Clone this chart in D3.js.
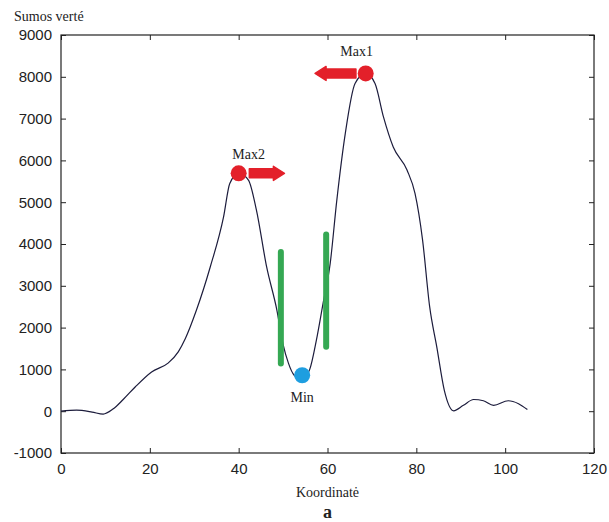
<!DOCTYPE html>
<html>
<head>
<meta charset="utf-8">
<script src="https://cdn.jsdelivr.net/npm/d3@7"></script>
<style>
  body { margin: 0; background: #fff; }
  svg { display: block; }
</style>
</head>
<body>
<div id="chart"></div>
<script>
// 画布尺寸
const width = 609;
const height = 522;
const margin = { top: 35, right: 15, bottom: 69, left: 61 };

// 曲线数据
const coordX = [0, 3.5, 7, 9.5, 11.7, 14, 16.7, 20.4, 24.1, 26.4, 28, 30.5, 33.6, 36.6, 38, 40,
  42.2, 44, 46.3, 48.6, 50, 51.2, 52.5, 54.3, 56, 57.5, 59, 60.6, 62.1, 64, 66.2, 68.6, 70.7,
  72.6, 74.8, 77.9, 79.7, 81.4, 83, 84.6, 86.3, 88.4, 90.6, 92.9, 95.1, 97.4, 100.7, 103, 105];
const sumValues = [0, 25, -20, -70, 50, 280, 580, 940, 1150, 1420, 1740, 2420, 3450, 4650, 5450, 5690,
  5530, 4810, 3450, 2420, 1600, 1150, 860, 760, 1000, 1700, 2580, 3530, 5050, 6640, 7840, 8080, 7840,
  7040, 6320, 5770, 5210, 4100, 2500, 1540, 500, 10, 140, 280, 250, 140, 250, 180, 40];

// 刻度
const xTicks = [0, 20, 40, 60, 80, 100, 120];
const yTicks = [-1000, 0, 1000, 2000, 3000, 4000, 5000, 6000, 7000, 8000, 9000];

// 标注: 极值点
const peakNames = ["Max2", "Max1", "Min"];
const peakX = [40, 68.6, 54.3];
const peakY = [5690, 8080, 860];
const peakColors = ["#e3202a", "#e3202a", "#1e9ee0"];
// 箭头 (起点 -> 终点, 数据坐标)
const arrowFrom = [[42.4, 5690], [66.4, 8080]];
const arrowTo = [[50.3, 5690], [57.2, 8080]];
// 绿色竖线
const barX = [49.5, 59.7];
const barTop = [3810, 4230];
const barBottom = [1140, 1540];

const svg = d3.select("#chart").append("svg")
  .attr("width", width)
  .attr("height", height);

const x = d3.scaleLinear().domain([0, 120]).range([margin.left, width - margin.right]);
const y = d3.scaleLinear().domain([-1000, 9000]).range([height - margin.bottom, margin.top]);

const tickFont = "'Liberation Sans', Arial, sans-serif";
const serif = "'Liberation Serif', 'Times New Roman', serif";
const plain = d => String(d); // 普通连字符负号

// 坐标轴 (MATLAB 风格, 刻度朝内)
function styleAxis(g) {
  g.select(".domain").remove();
  g.selectAll("text").style("font-family", tickFont).style("font-size", "15px").attr("fill", "#222");
  g.selectAll("line").attr("stroke", "#222");
}

svg.append("g")
  .attr("transform", `translate(0,${y(-1000)})`)
  .call(d3.axisBottom(x).tickValues(xTicks).tickSize(-5).tickPadding(10).tickFormat(plain))
  .call(styleAxis);

svg.append("g")
  .attr("transform", `translate(0,${y(9000)})`)
  .call(d3.axisTop(x).tickValues(xTicks).tickSize(-5).tickFormat(""))
  .call(styleAxis);

svg.append("g")
  .attr("transform", `translate(${x(0)},0)`)
  .call(d3.axisLeft(y).tickValues(yTicks).tickSize(-5).tickPadding(9).tickFormat(plain))
  .call(styleAxis);

svg.append("g")
  .attr("transform", `translate(${x(120)},0)`)
  .call(d3.axisRight(y).tickValues(yTicks).tickSize(-5).tickFormat(""))
  .call(styleAxis);

// 边框
svg.append("rect")
  .attr("x", x(0))
  .attr("y", y(9000))
  .attr("width", x(120) - x(0))
  .attr("height", y(-1000) - y(9000))
  .attr("fill", "none")
  .attr("stroke", "#222")
  .attr("stroke-width", 1.2);

// 曲线
const line = d3.line()
  .x((d, i) => x(coordX[i]))
  .y(d => y(d))
  .curve(d3.curveMonotoneX);

svg.append("path")
  .datum(sumValues)
  .attr("d", line)
  .attr("fill", "none")
  .attr("stroke", "#1c1c3c")
  .attr("stroke-width", 1.2);

// 绿色竖线
svg.append("g").selectAll("line")
  .data(barX)
  .enter()
  .append("line")
  .attr("x1", d => x(d))
  .attr("x2", d => x(d))
  .attr("y1", (d, i) => y(barTop[i]))
  .attr("y2", (d, i) => y(barBottom[i]))
  .attr("stroke", "#35a853")
  .attr("stroke-width", 6)
  .attr("stroke-linecap", "round");

// 红色箭头
const arrows = svg.append("g");
arrowFrom.forEach((from, i) => {
  const x0 = x(from[0]), x1 = x(arrowTo[i][0]), yy = y(from[1]);
  const dir = Math.sign(x1 - x0);
  const headLen = 11;
  const xh = x1 - dir * headLen;
  arrows.append("path")
    .attr("d", `M${x0},${yy - 4.5} L${xh},${yy - 4.5} L${xh},${yy - 7} L${x1},${yy}
                L${xh},${yy + 7} L${xh},${yy + 4.5} L${x0},${yy + 4.5} Z`)
    .attr("fill", "#e3202a")
    .attr("stroke", "#e3202a")
    .attr("stroke-width", 1.5)
    .attr("stroke-linejoin", "round");
});

// 极值点
svg.append("g").selectAll("circle")
  .data(peakX)
  .enter()
  .append("circle")
  .attr("cx", d => x(d))
  .attr("cy", (d, i) => y(peakY[i]))
  .attr("r", 8)
  .attr("fill", (d, i) => peakColors[i]);

// 标签
const labelDx = [10, -9, 0];
const labelDy = [-14, -17, 27];
svg.append("g").selectAll("text")
  .data(peakNames)
  .enter()
  .append("text")
  .attr("x", (d, i) => x(peakX[i]) + labelDx[i])
  .attr("y", (d, i) => y(peakY[i]) + labelDy[i])
  .attr("text-anchor", "middle")
  .style("font-family", serif)
  .style("font-size", "14px")
  .attr("fill", "#222")
  .text(d => d);

// 轴标题
svg.append("text")
  .attr("x", 14)
  .attr("y", 21)
  .style("font-family", serif)
  .style("font-size", "14px")
  .attr("fill", "#222")
  .text("Sumos verté");

svg.append("text")
  .attr("x", x(60))
  .attr("y", 497)
  .attr("text-anchor", "middle")
  .style("font-family", serif)
  .style("font-size", "14px")
  .attr("fill", "#222")
  .text("Koordinatė");

svg.append("text")
  .attr("x", x(60))
  .attr("y", 518)
  .attr("text-anchor", "middle")
  .style("font-family", serif)
  .style("font-size", "18px")
  .style("font-weight", "bold")
  .attr("fill", "#222")
  .text("a");
</script>
</body>
</html>
